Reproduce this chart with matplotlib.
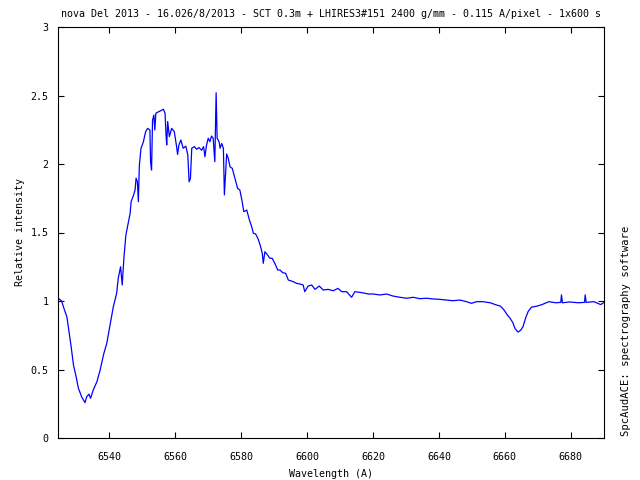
import matplotlib
matplotlib.use("Agg")
import matplotlib.pyplot as plt

wavelength = [
    6524.5, 6525.5, 6526.3, 6527.1, 6527.6, 6528.4, 6529.1, 6529.8, 6530.6, 6531.6,
    6532.6, 6533.1, 6533.8, 6534.3, 6535.1, 6536.2, 6537.2, 6538.2, 6539.2, 6540.2,
    6541.2, 6542.2, 6542.7, 6543.4, 6543.9, 6544.4, 6545.0, 6545.6, 6546.3, 6546.6,
    6547.3, 6547.8, 6548.1, 6548.5, 6548.8, 6549.1, 6549.6, 6550.3, 6551.0, 6551.6,
    6552.3, 6552.5, 6552.8, 6553.1, 6553.5, 6553.8, 6554.1, 6554.8, 6555.7, 6556.4,
    6556.9, 6557.2, 6557.4, 6557.7, 6558.2, 6558.9, 6559.7, 6560.4, 6560.7, 6561.1,
    6561.7, 6562.4, 6563.2, 6563.8, 6564.2, 6564.6, 6565.0, 6565.8, 6566.5, 6567.2,
    6568.0, 6568.6, 6569.0, 6569.5, 6570.0, 6570.5, 6571.0, 6571.5, 6571.8, 6572.0,
    6572.3, 6572.4, 6572.7, 6573.3, 6573.6, 6574.1, 6574.6, 6574.9, 6575.2, 6575.6,
    6576.1, 6576.6, 6577.3, 6578.1, 6578.9, 6579.6, 6580.3, 6580.8, 6581.7, 6582.5,
    6583.2, 6583.7, 6584.4, 6585.2, 6585.9, 6586.4, 6586.7, 6587.2, 6588.0, 6588.7,
    6589.4, 6590.2, 6591.1, 6591.8, 6592.6, 6593.5, 6594.3, 6595.8, 6596.8, 6597.8,
    6598.8, 6599.3, 6600.3, 6601.4, 6602.4, 6603.7, 6604.9, 6606.4, 6607.9, 6609.4,
    6610.5, 6612.0, 6613.5, 6614.5, 6616.6, 6618.6, 6620.1, 6622.1, 6624.1, 6626.1,
    6628.2, 6630.2, 6632.2, 6634.2, 6636.3, 6638.3, 6640.3, 6642.3, 6644.3, 6646.4,
    6648.4, 6649.9, 6651.4, 6653.4, 6655.6, 6657.1, 6658.7, 6659.7, 6660.6, 6661.6,
    6662.4, 6663.1, 6664.0, 6664.8, 6665.5, 6666.3, 6667.1, 6668.1, 6669.7, 6671.3,
    6673.4, 6675.5, 6677.0, 6677.2, 6677.5, 6679.7, 6682.3, 6684.2, 6684.4, 6684.7,
    6687.0, 6689.1, 6690.2,
]
intensity = [
    1.02, 1.00, 0.94, 0.885, 0.80, 0.667, 0.533, 0.46, 0.363, 0.30,
    0.258, 0.30, 0.32, 0.29, 0.35, 0.41, 0.496, 0.606, 0.69, 0.825,
    0.958, 1.056, 1.166, 1.25, 1.117, 1.31, 1.48, 1.555, 1.64, 1.725,
    1.77, 1.81, 1.896, 1.87, 1.725, 1.99, 2.115, 2.16, 2.236, 2.26,
    2.248, 2.017, 1.956, 2.32, 2.357, 2.248, 2.37, 2.38, 2.39, 2.40,
    2.37, 2.21, 2.139, 2.31, 2.20, 2.26, 2.236, 2.127, 2.07, 2.139,
    2.175, 2.115, 2.13, 2.066, 1.87, 1.895, 2.115, 2.127, 2.107, 2.12,
    2.10, 2.127, 2.053, 2.139, 2.188, 2.163, 2.204, 2.188, 2.09, 2.017,
    2.394, 2.52, 2.188, 2.163, 2.115, 2.15, 2.115, 1.774, 1.907, 2.073,
    2.04, 1.98, 1.968, 1.896, 1.823, 1.81, 1.725, 1.652, 1.664, 1.591,
    1.542, 1.494, 1.489, 1.45, 1.396, 1.348, 1.275, 1.36, 1.336, 1.312,
    1.312, 1.275, 1.226, 1.226, 1.207, 1.202, 1.153, 1.141, 1.129, 1.124,
    1.117, 1.068, 1.109, 1.117, 1.085, 1.109, 1.080, 1.085, 1.075, 1.092,
    1.068, 1.068, 1.027, 1.068, 1.061, 1.051, 1.051, 1.044, 1.051, 1.036,
    1.027, 1.020, 1.027, 1.017, 1.020, 1.015, 1.012, 1.007, 1.002, 1.007,
    0.995, 0.983, 0.995, 0.995, 0.987, 0.974, 0.962, 0.937, 0.904, 0.874,
    0.844, 0.799, 0.773, 0.786, 0.811, 0.874, 0.924, 0.955, 0.962, 0.974,
    0.995, 0.987, 0.990, 1.045, 0.987, 0.993, 0.987, 0.990, 1.045, 0.990,
    0.995, 0.974, 0.990,
]
x_ticks = [6540, 6560, 6580, 6600, 6620, 6640, 6660, 6680]
y_ticks = [0, 0.5, 1, 1.5, 2, 2.5, 3]
y_tick_labels = ["0", "0.5", "1", "1.5", "2", "2.5", "3"]

title = "nova Del 2013 - 16.026/8/2013 - SCT 0.3m + LHIRES3#151 2400 g/mm - 0.115 A/pixel - 1x600 s"
credit = "SpcAudACE: spectrography software"

plt.rcParams['font.family'] = ['DejaVu Sans Mono']
fs = 7.2

fig = plt.figure(figsize=(6.4, 4.8), dpi=100)
ax = fig.add_axes([58.3 / 640, 1 - 438 / 480, (604.3 - 58.3) / 640, (438 - 27) / 480])

ax.plot(wavelength, intensity, color="#0000ff", linewidth=0.9)

ax.set_xlim(6524.5, 6690.2)
ax.set_ylim(0, 3)
ax.set_xticks(x_ticks)
ax.set_xticklabels([str(v) for v in x_ticks], fontsize=fs)
ax.set_yticks(y_ticks)
ax.set_yticklabels(y_tick_labels, fontsize=fs)
ax.tick_params(direction="in", length=4, width=0.8, top=True, right=True)
ax.tick_params(axis="x", pad=10)
ax.tick_params(axis="y", pad=7)
for s in ax.spines.values():
    s.set_linewidth(0.8)
    s.set_color("black")

ax.set_xlabel("Wavelength (A)", fontsize=fs, labelpad=5)
ax.set_ylabel("Relative intensity", fontsize=fs, labelpad=4)
ax.set_title(title, fontsize=fs, pad=7)

fig.text(626 / 640, 1 - 436 / 480, credit, rotation=90, fontsize=7.6,
         ha="center", va="bottom")

fig.savefig("out.png", dpi=100)
